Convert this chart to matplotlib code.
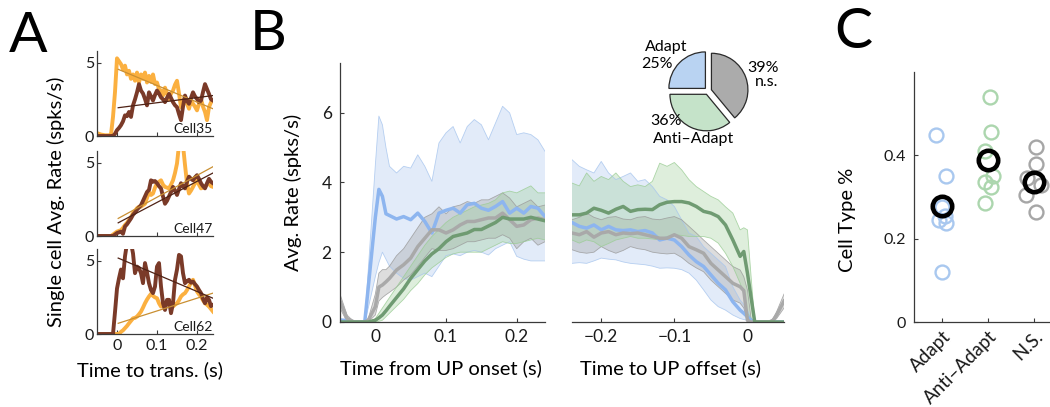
import numpy as np
import matplotlib
matplotlib.use("Agg")
import matplotlib.pyplot as plt

plt.rcParams['font.family'] = ['Lato', 'DejaVu Sans']

# ---------------- Panel A data ----------------
tA_neg = [-0.05, -0.04, -0.03, -0.02, -0.015, -0.01, -0.005]
tA_pos = list(np.round(np.arange(0, 0.2401, 0.005), 3))
tA = tA_neg + tA_pos

cell35_orange = [0.2, 0.1, 0.05, 0.05, 0.1, 1.3, 3.0] + [
    5.3, 5.1, 4.9, 4.55, 4.8, 4.2, 4.45, 3.9, 4.2, 3.77,
    4.33, 3.65, 4.2, 3.9, 4.33, 3.65, 4.1, 3.7, 4.2, 3.54,
    3.65, 3.2, 3.1, 2.76, 3.3, 2.9, 2.5, 2.9, 3.1, 3.5,
    3.77, 2.9, 1.97, 2.4, 2.6, 2.2, 1.86, 2.4, 2.2, 2.0,
    1.75, 2.2, 2.53, 2.0, 1.64, 1.08, 1.97, 2.3, 2.42]
cell35_brown = [0, 0, 0, 0, 0, 0, 0.15] + [
    0.4, 0.55, 0.74, 1.0, 1.41, 1.35, 1.64, 1.3, 2.09, 2.5,
    2.98, 3.54, 3.1, 2.9, 2.53, 2.09, 2.98, 2.7, 2.42, 2.8,
    3.1, 2.9, 2.64, 2.5, 2.31, 2.6, 2.87, 2.6, 2.31, 2.1,
    1.97, 1.5, 1.08, 2.0, 2.76, 2.4, 2.2, 2.6, 2.98, 2.7,
    2.53, 2.3, 2.42, 3.0, 3.54, 3.2, 2.87, 2.5, 2.42]
cell47_orange = [0, 0, 0, 0, 0, 0.1, 0.2] + [
    0.3, 0.35, 0.4, 0.55, 0.75, 0.9, 1.1, 1.3, 1.55, 1.7,
    1.9, 2.0, 2.0, 2.1, 2.2, 2.6, 3.0, 2.8, 2.9, 3.3,
    3.6, 3.7, 3.8, 3.5, 3.35, 3.3, 3.25, 3.5, 3.8, 4.3,
    4.95, 6.2, 6.3, 6.2, 4.85, 3.6, 2.9, 3.1, 3.35, 3.6,
    3.8, 3.5, 3.25, 3.3, 3.35, 3.5, 3.6, 3.4, 3.35]
cell47_brown = [0, 0, 0, 0, 0, 0, 0.1] + [
    0.2, 0.25, 0.3, 0.15, 0.65, 0.8, 1.0, 1.2, 1.45, 1.6,
    1.8, 1.95, 2.1, 2.4, 2.7, 3.0, 3.15, 3.8, 3.7, 3.75,
    3.6, 3.4, 3.25, 2.7, 2.2, 2.4, 2.7, 3.0, 3.35, 3.1,
    2.8, 3.2, 3.6, 3.4, 3.25, 3.7, 4.05, 3.9, 3.8, 4.0,
    4.15, 3.9, 3.6, 3.4, 3.25, 3.6, 3.9, 3.7, 3.6]
cell62_orange = [0, 0, 0, 0, 0, 0, 0] + [
    0, 0, 0.15, 0.25, 0.4, 0.55, 0.73, 0.9, 1.07, 1.1,
    1.19, 1.35, 1.53, 1.8, 2.1, 2.35, 2.56, 2.74, 2.6, 2.5,
    2.44, 2.1, 1.87, 2.0, 2.1, 2.2, 2.33, 2.0, 1.87, 2.0,
    2.1, 2.3, 2.56, 2.7, 2.79, 3.0, 3.24, 3.5, 3.7, 3.3,
    2.9, 2.7, 2.56, 2.3, 2.1, 2.0, 1.87, 1.7, 1.53]
cell62_brown = [0, 0, 0, 0, 0, 0, 1.5] + [
    3.1, 3.8, 4.4, 3.8, 5.3, 6.2, 6.4, 6.2, 5.5, 4.15,
    4.6, 4.5, 4.15, 3.47, 4.84, 4.2, 3.47, 3.0, 2.79, 3.24,
    4.6, 4.84, 3.24, 2.1, 1.64, 2.33, 2.33, 1.42, 2.1, 3.7,
    4.4, 5.4, 5.3, 4.15, 3.47, 3.6, 3.7, 3.5, 3.58, 3.4,
    3.24, 3.0, 2.79, 2.4, 2.1, 2.5, 2.33, 1.9, 1.99]

fit_t = [0.003, 0.24]
fit35_orange = [4.55, 1.86]
fit35_brown = [1.93, 2.76]
fit47_orange = [1.2, 4.73]
fit47_brown = [0.9, 4.3]
fit62_orange = [0.73, 2.79]
fit62_brown = [5.18, 2.44]
cell_names = ['Cell35', 'Cell47', 'Cell62']

# ---------------- Panel B data ----------------
t_on = [-0.05, -0.04, -0.03, -0.02, -0.015, -0.01, 0.0, 0.005, 0.01, 0.015,
        0.02, 0.03, 0.04, 0.05, 0.06, 0.07, 0.08, 0.09, 0.1, 0.11,
        0.12, 0.13, 0.14, 0.15, 0.16, 0.17, 0.18, 0.19, 0.2, 0.21,
        0.22, 0.23, 0.24]
on_adapt = [0.05, 0.05, 0, 0, 0, 1.0, 3.0, 3.8, 3.6, 3.1,
            3.05, 2.95, 3.02, 2.93, 3.12, 2.88, 2.55, 3.12, 3.2, 3.26,
            3.12, 3.36, 3.4, 3.26, 3.2, 3.31, 3.45, 3.12, 3.26, 3.12,
            3.31, 3.26, 3.02]
on_adapt_hi = [0.1, 0.05, 0, 0, 0, 1.5, 4.5, 5.9, 5.65, 5.0,
               4.46, 4.27, 4.46, 4.41, 4.79, 4.46, 4.03, 5.13, 5.42, 5.6,
               5.13, 5.6, 5.8, 5.65, 5.22, 5.7, 6.18, 5.99, 5.37, 5.42,
               5.37, 5.22, 4.89]
on_adapt_lo = [0, 0, 0, 0, 0, 0.4, 1.3, 1.7, 2.0, 1.8,
               1.6, 1.4, 1.25, 1.2, 1.3, 1.4, 1.3, 1.6, 1.9, 1.95,
               1.9, 2.0, 2.05, 2.0, 1.92, 2.1, 2.2, 2.3, 1.88, 1.8,
               1.75, 1.75, 1.75]
on_ns = [0.6, 0.1, 0, 0, 0, 0.05, 0.44, 1.0, 1.06, 1.15,
         1.25, 1.49, 1.64, 1.83, 2.16, 2.4, 2.64, 2.64, 2.55, 2.64,
         2.78, 2.88, 2.88, 2.93, 2.98, 2.98, 3.12, 2.93, 2.74, 2.78,
         2.93, 2.98, 2.93]
on_ns_hi = [0.8, 0.2, 0, 0, 0, 0.1, 0.8, 1.4, 1.5, 1.5,
            1.6, 1.9, 2.1, 2.4, 2.7, 3.0, 3.1, 3.3, 3.1, 3.3,
            3.35, 3.45, 3.4, 3.5, 3.5, 3.6, 3.7, 3.55, 3.3, 3.4,
            3.5, 3.3, 3.35]
on_ns_lo = [0.4, 0, 0, 0, 0, 0, 0.2, 0.6, 0.7, 0.78,
            0.85, 1.0, 1.2, 1.35, 1.6, 1.85, 2.1, 2.05, 2.05, 2.1,
            2.2, 2.3, 2.3, 2.35, 2.4, 2.4, 2.5, 2.4, 2.1, 2.3,
            2.4, 2.2, 2.3]
on_anti = [0, 0, 0, 0, 0, 0, 0.05, 0.12, 0.2, 0.32,
           0.45, 0.7, 0.95, 1.25, 1.5, 1.75, 1.95, 2.1, 2.3, 2.45,
           2.5, 2.55, 2.65, 2.65, 2.75, 2.85, 3.0, 2.95, 2.95, 2.95,
           3.0, 2.95, 2.9]
on_anti_hi = [0, 0, 0, 0, 0, 0, 0.1, 0.25, 0.4, 0.55,
              0.7, 1.0, 1.3, 1.6, 1.9, 2.2, 2.45, 2.65, 2.85, 3.0,
              3.1, 3.2, 3.3, 3.35, 3.4, 3.5, 3.7, 3.75, 3.7, 3.8,
              3.9, 3.7, 3.7]
on_anti_lo = [0, 0, 0, 0, 0, 0, 0, 0.02, 0.05, 0.15,
              0.25, 0.45, 0.65, 0.9, 1.1, 1.35, 1.55, 1.7, 1.85, 1.95,
              2.0, 2.0, 2.0, 2.0, 2.1, 2.2, 2.3, 2.25, 2.25, 2.3,
              2.35, 2.4, 2.35]

t_off = [-0.24, -0.23, -0.22, -0.21, -0.2, -0.19, -0.18, -0.17, -0.16, -0.15,
         -0.14, -0.13, -0.12, -0.11, -0.1, -0.09, -0.08, -0.07, -0.06, -0.05,
         -0.04, -0.03, -0.02, -0.01, -0.005, 0.0, 0.005, 0.01, 0.02, 0.03,
         0.035, 0.04, 0.05]
off_anti = [3.07, 3.07, 3.12, 3.26, 3.2, 3.12, 3.23, 3.31, 3.17, 3.22,
            3.23, 3.22, 3.36, 3.43, 3.45, 3.45, 3.41, 3.31, 3.17, 3.12,
            3.02, 2.78, 2.35, 1.88, 2.02, 1.4, 0.7, 0, 0, 0,
            0, 0, 0]
off_anti_hi = [3.98, 3.9, 4.27, 4.03, 4.17, 4.08, 4.27, 4.03, 3.88, 3.93,
               3.88, 4.03, 4.55, 4.46, 4.57, 4.36, 4.08, 3.88, 3.74, 3.6,
               3.5, 3.3, 3.12, 2.64, 2.7, 2.64, 1.3, 0, 0, 0,
               0, 0, 0]
off_anti_lo = [2.35, 2.26, 2.35, 2.3, 2.16, 2.25, 2.35, 2.4, 2.45, 2.4,
               2.4, 2.38, 2.35, 2.45, 2.5, 2.48, 2.45, 2.45, 2.45, 2.4,
               2.26, 1.97, 1.59, 1.11, 0.8, 0.25, 0.1, 0, 0, 0,
               0, 0, 0]
off_ns = [2.55, 2.5, 2.59, 2.43, 2.55, 2.59, 2.5, 2.55, 2.53, 2.55,
          2.5, 2.45, 2.4, 2.4, 2.5, 2.4, 2.16, 2.07, 1.97, 1.68,
          1.49, 1.3, 1.11, 1.01, 0.9, 0.05, 0, 0, 0, 0,
          0.05, 0.2, 0.6]
off_ns_hi = [2.93, 3.0, 3.12, 3.0, 2.93, 3.0, 3.02, 2.95, 2.93, 3.0,
             3.02, 2.95, 2.93, 2.98, 3.02, 2.93, 2.74, 2.55, 2.35, 2.16,
             1.97, 1.78, 1.59, 1.49, 1.3, 0.92, 0.1, 0, 0, 0,
             0.1, 0.3, 0.8]
off_ns_lo = [2.07, 2.0, 1.97, 2.0, 2.16, 2.05, 1.97, 2.05, 2.16, 2.1,
             2.07, 2.0, 1.97, 1.95, 1.97, 1.85, 1.68, 1.55, 1.44, 1.2,
             1.01, 0.82, 0.63, 0.54, 0.4, 0.0, 0, 0, 0, 0,
             0, 0.1, 0.4]
off_adapt = [2.85, 2.74, 2.69, 2.78, 2.64, 2.74, 2.64, 2.62, 2.64, 2.59,
             2.62, 2.55, 2.35, 2.4, 2.35, 2.16, 1.92, 1.73, 1.59, 1.35,
             1.11, 0.92, 0.58, 0.34, 0.25, 0.15, 0.05, 0, 0, 0,
             0, 0, 0]
off_adapt_hi = [4.65, 4.46, 4.36, 4.27, 4.6, 4.27, 4.08, 4.17, 4.27, 4.03,
                4.08, 3.88, 3.6, 3.5, 3.31, 2.93, 2.55, 2.45, 2.16, 1.97,
                1.78, 1.59, 1.01, 0.63, 0.5, 0.34, 0.1, 0, 0, 0,
                0, 0, 0]
off_adapt_lo = [1.68, 1.7, 1.68, 1.75, 1.83, 1.8, 1.78, 1.72, 1.68, 1.66,
                1.64, 1.6, 1.54, 1.55, 1.54, 1.5, 1.4, 1.2, 0.92, 0.63,
                0.44, 0.34, 0.2, 0.1, 0.07, 0.05, 0.02, 0, 0, 0,
                0, 0, 0]

pie_labels = ['Adapt', 'Anti\u2013Adapt', 'n.s.']
pie_shares = [25, 36, 39]

# ---------------- Panel C data ----------------
c_categories = ['Adapt', 'Anti\u2013Adapt', 'N.S.']
adapt_pct = [0.45, 0.35, 0.275, 0.255, 0.245, 0.238, 0.12]
adapt_jit = [-0.13, 0.10, 0.0, 0.08, -0.05, 0.10, 0.0]
anti_pct = [0.54, 0.455, 0.41, 0.35, 0.335, 0.325, 0.285]
anti_jit = [0.05, 0.07, -0.06, 0.12, -0.05, 0.07, -0.05]
ns_pct = [0.42, 0.38, 0.345, 0.33, 0.305, 0.265]
ns_jit = [0.04, 0.05, -0.14, 0.16, -0.16, 0.04]
mean_pct = [0.278, 0.39, 0.335]

# ---------------- styling ----------------
W, H = 1050, 407
ORANGE = '#fbb040'
BROWN = '#7a3a28'
ORANGE_FIT = '#c98f32'
BROWN_FIT = '#4f2215'
BLUE = '#8db5ef'
GRAY = '#a9a9a9'
GREEN = '#6f9b72'
BLUE_BAND = '#a7c5ee'
GRAY_BAND = '#9a9a9a'
GREEN_BAND = '#9bcd95'
BLUE_L = '#a9c8ef'
GREEN_L = '#acd6ae'
GRAY_L = '#a6a6a6'
SPINE = '#3a3a3a'


def rect(l, t, r, b):
    return [l / W, 1 - b / H, (r - l) / W, (b - t) / H]


def fxy(x, y):
    return x / W, 1 - y / H


def style(ax, left=True):
    for s in ['top', 'right']:
        ax.spines[s].set_visible(False)
    ax.spines['left'].set_visible(left)
    for s in ['left', 'bottom']:
        ax.spines[s].set_color(SPINE)
        ax.spines[s].set_linewidth(0.9)
    ax.tick_params(direction='in', length=3, width=0.8, color=SPINE,
                   labelcolor='#1a1a1a')


fig = plt.figure(figsize=(W / 100, H / 100), dpi=100)

# ---------------- Panel A ----------------
cells = [(cell35_orange, cell35_brown, fit35_orange, fit35_brown),
         (cell47_orange, cell47_brown, fit47_orange, fit47_brown),
         (cell62_orange, cell62_brown, fit62_orange, fit62_brown)]
tops = [51, 151, 249]
for i, (orng, brwn, fo, fb) in enumerate(cells):
    ax = fig.add_axes(rect(97, tops[i], 213, tops[i] + 85))
    ax.plot(tA, orng, color=ORANGE, lw=2.8, solid_joinstyle='round')
    ax.plot(tA, brwn, color=BROWN, lw=2.8, solid_joinstyle='round')
    ax.plot(fit_t, fo, color=ORANGE_FIT, lw=0.9)
    ax.plot(fit_t, fb, color=BROWN_FIT, lw=0.9)
    ax.set_xlim(-0.05, 0.24)
    ax.set_ylim(0, 5.8)
    style(ax)
    ax.set_yticks([0, 5])
    ax.set_yticklabels(['0', '5'], fontsize=11.5)
    ax.set_xticks([0, 0.1, 0.2])
    if i == 2:
        ax.set_xticklabels(['0', '0.1', '0.2'], fontsize=11.5)
    else:
        ax.set_xticklabels([])
    ax.tick_params(axis='y', pad=2)
    ax.text(1.0, 0.01, cell_names[i], transform=ax.transAxes, ha='right',
            va='bottom', fontsize=10, color='#1a1a1a')

fig.text(*fxy(150, 370), 'Time to trans. (s)', ha='center', va='center',
         fontsize=14.5)
fig.text(*fxy(56, 202), 'Single cell Avg. Rate (spks/s)', ha='center',
         va='center', rotation=90, fontsize=14.5)
fig.text(*fxy(28, 36), 'A', ha='center', va='center', fontsize=41)

# ---------------- Panel B ----------------
axL = fig.add_axes(rect(340, 63, 545, 322))
axR = fig.add_axes(rect(572, 63, 784, 322))
groups_on = [(on_adapt, on_adapt_lo, on_adapt_hi, BLUE, BLUE_BAND),
             (on_ns, on_ns_lo, on_ns_hi, GRAY, GRAY_BAND),
             (on_anti, on_anti_lo, on_anti_hi, GREEN, GREEN_BAND)]
groups_off = [(off_adapt, off_adapt_lo, off_adapt_hi, BLUE, BLUE_BAND),
              (off_ns, off_ns_lo, off_ns_hi, GRAY, GRAY_BAND),
              (off_anti, off_anti_lo, off_anti_hi, GREEN, GREEN_BAND)]
for ax, tt, groups in [(axL, t_on, groups_on), (axR, t_off, groups_off)]:
    for m, lo, hi, c, bc in groups:
        ax.fill_between(tt, lo, hi, facecolor=bc, alpha=0.33, edgecolor='none')
        ax.plot(tt, lo, color=bc, lw=0.6, alpha=0.8)
        ax.plot(tt, hi, color=bc, lw=0.6, alpha=0.8)
    for m, lo, hi, c, bc in groups:
        ax.plot(tt, m, color=c, lw=2.5, solid_joinstyle='round')
    ax.set_ylim(0, 7.42)

axL.set_xlim(-0.05, 0.24)
axR.set_xlim(-0.24, 0.05)
style(axL)
style(axR, left=False)
axL.set_yticks([0, 2, 4, 6])
axL.set_yticklabels(['0', '2', '4', '6'], fontsize=12.5)
axL.set_xticks([0, 0.1, 0.2])
axL.set_xticklabels(['0', '0.1', '0.2'], fontsize=12.5)
axL.tick_params(axis='y', pad=6)
axL.tick_params(axis='x', pad=5)
axR.set_yticks([])
axR.set_xticks([-0.2, -0.1, 0])
axR.set_xticklabels(['\u22120.2', '\u22120.1', '0'], fontsize=12.5)
axR.tick_params(axis='x', pad=5)

fig.text(*fxy(441, 368), 'Time from UP onset (s)', ha='center', va='center',
         fontsize=14.5)
fig.text(*fxy(671, 368), 'Time to UP offset (s)', ha='center', va='center',
         fontsize=14.5)
fig.text(*fxy(293, 192), 'Avg. Rate (spks/s)', ha='center', va='center',
         rotation=90, fontsize=14.5)
fig.text(*fxy(268, 35), 'B', ha='center', va='center', fontsize=41)

# pie inset
R = 36.5
cx, cy = 708, 91
half = 50
axP = fig.add_axes(rect(cx - half, cy - half, cx + half, cy + half))
axP.pie(pie_shares, colors=['#b9d3f2', '#c5e3c9', '#ababab'], startangle=90,
        counterclock=True, explode=[0.1, 0.1, 0.1],
        wedgeprops=dict(edgecolor='#2a2a2a', linewidth=0.9))
axP.set_xlim(-half / R, half / R)
axP.set_ylim(-half / R, half / R)
axP.set_aspect('equal')
axP.axis('off')
pie_fs = 11.5
fig.text(*fxy(666, 47), pie_labels[0], ha='center', va='center', fontsize=pie_fs)
fig.text(*fxy(657, 64), f'{pie_shares[0]}%', ha='center', va='center', fontsize=pie_fs)
fig.text(*fxy(763, 68), f'{pie_shares[2]}%', ha='center', va='center', fontsize=pie_fs)
fig.text(*fxy(778, 82), pie_labels[2], ha='right', va='center', fontsize=pie_fs)
fig.text(*fxy(666, 121), f'{pie_shares[1]}%', ha='center', va='center', fontsize=pie_fs)
fig.text(*fxy(694, 139.5), pie_labels[1], ha='center', va='center', fontsize=pie_fs)

# ---------------- Panel C ----------------
axC = fig.add_axes(rect(914, 72, 1050, 322))
for k, (vals, jit, col) in enumerate([(adapt_pct, adapt_jit, BLUE_L),
                                      (anti_pct, anti_jit, GREEN_L),
                                      (ns_pct, ns_jit, GRAY_L)]):
    xs = [k + 1 + j for j in jit]
    axC.plot(xs, vals, 'o', ms=10, mfc='none', mec=col, mew=1.7,
             clip_on=False)
axC.plot([1, 2, 3], mean_pct, 'o', ms=14, mfc='none', mec='black', mew=3.3,
         ls='none', clip_on=False)
axC.set_xlim(0.4, 3.35)
axC.set_ylim(0, 0.6)
style(axC)
axC.set_yticks([0, 0.2, 0.4])
axC.set_yticklabels(['0', '0.2', '0.4'], fontsize=11.5)
axC.set_xticks([1, 2, 3])
axC.set_xticklabels(c_categories, rotation=45, ha='right',
                    rotation_mode='anchor', fontsize=13.5)
axC.tick_params(axis='y', pad=6)
axC.tick_params(axis='x', pad=4)
fig.text(*fxy(847, 220), 'Cell Type %', ha='center', va='center',
         rotation=90, fontsize=14.5)
fig.text(*fxy(853, 33), 'C', ha='center', va='center', fontsize=41)

fig.savefig('out.png', dpi=100)
